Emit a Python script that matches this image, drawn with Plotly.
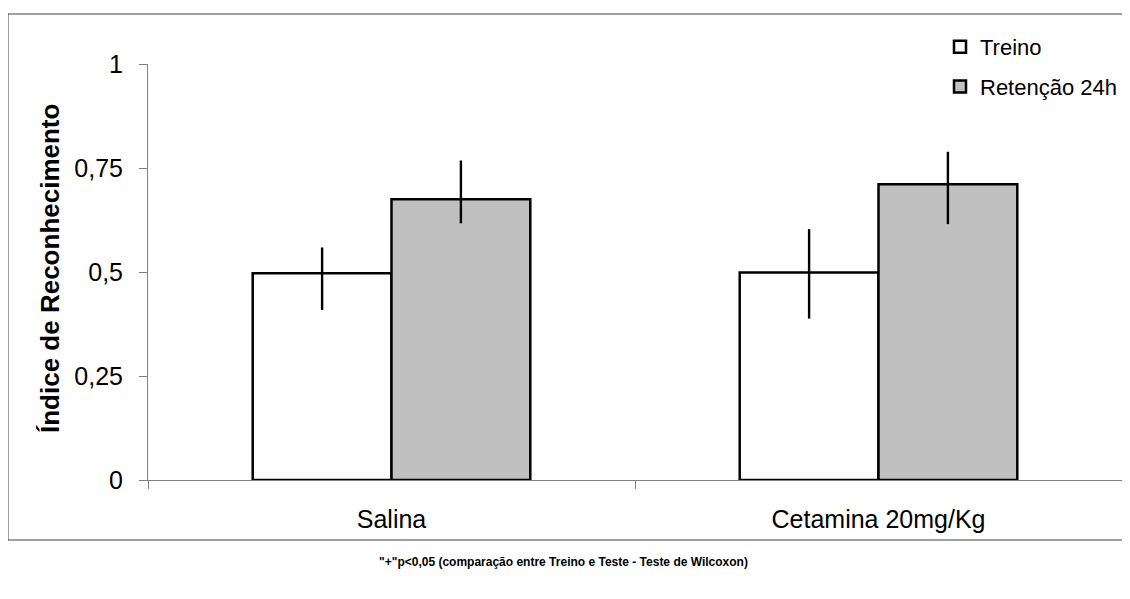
import plotly.graph_objects as go

categories = ["Salina", "Cetamina 20mg/Kg"]
treino = [0.497, 0.499]
treino_err_plus = [0.062, 0.104]
treino_err_minus = [0.088, 0.111]
retencao = [0.675, 0.711]
retencao_err_plus = [0.093, 0.078]
retencao_err_minus = [0.058, 0.096]
y_ticks = [0, 0.25, 0.5, 0.75, 1]
y_tick_labels = ["0", "0,25", "0,5", "0,75", "1"]

FONT = "Liberation Sans, Arial, sans-serif"

fig = go.Figure()
fig.add_trace(go.Bar(
    name="Treino", x=categories, y=treino, legendgroup="a",
    marker=dict(color="white", line=dict(color="black", width=2.5)),
    error_y=dict(type="data", symmetric=False, array=treino_err_plus,
                 arrayminus=treino_err_minus, width=0, thickness=2.4, color="black"),
))
fig.add_trace(go.Bar(
    name="Retenção 24h", x=categories, y=retencao, legendgroup="b",
    marker=dict(color="#c0c0c0", line=dict(color="black", width=2.5)),
    error_y=dict(type="data", symmetric=False, array=retencao_err_plus,
                 arrayminus=retencao_err_minus, width=0, thickness=2.4, color="black"),
))

# page offset (body margin of 8px)
OFF = 8
W, H = 1130 - OFF, 599 - OFF
L = 148 - OFF
T = 64 - OFF
R = 1130 - 1122
B = H - (480 - OFF)
pw = W - L - R
ph = H - T - B

def px(x):
    # page x -> paper
    return (x - OFF - L) / pw

def py(y):
    # page y -> paper
    return (H - B - (y - OFF)) / ph

fig.update_layout(
    width=W, height=H,
    margin=dict(l=L, r=R, t=T, b=B, pad=0, autoexpand=False),
    paper_bgcolor="white", plot_bgcolor="white",
    barmode="group", bargap=0.43, bargroupgap=0,
    font=dict(family=FONT, color="black"),
    showlegend=True,
    legend=dict(x=px(940), y=py(26), xanchor="left", yanchor="top",
                font=dict(size=22, family=FONT), bgcolor="rgba(0,0,0,0)",
                traceorder="grouped", tracegroupgap=8, itemwidth=30),
    xaxis=dict(
        showline=True, linecolor="#808080", linewidth=1,
        ticks="outside", tickson="boundaries", ticklen=8, tickcolor="#808080",
        tickfont=dict(size=25, family=FONT), showgrid=False, zeroline=False,
        ticklabelstandoff=17, automargin=False,
    ),
    yaxis=dict(
        range=[0, 1], tickvals=y_ticks, ticktext=y_tick_labels,
        showline=True, linecolor="#808080", linewidth=1,
        ticks="outside", ticklen=8, tickcolor="#808080",
        tickfont=dict(size=25, family=FONT), showgrid=False, zeroline=False,
        ticklabelstandoff=11, automargin=False,
    ),
    shapes=[dict(type="rect", xref="paper", yref="paper",
                 x0=px(8), x1=px(1145), y0=py(540), y1=py(14),
                 line=dict(color="#404040", width=1), fillcolor="rgba(0,0,0,0)",
                 layer="below")],
    annotations=[
        dict(text="<b>Índice de Reconhecimento</b>", xref="paper", yref="paper",
             x=px(50), y=py(269), xanchor="center", yanchor="middle",
             textangle=-90, showarrow=False,
             font=dict(size=26, family=FONT)),
        dict(text="<b>\"+\"p<0,05 (comparação entre Treino e Teste - Teste de Wilcoxon)</b>",
             xref="paper", yref="paper", x=px(563), y=py(562),
             xanchor="center", yanchor="middle",
             showarrow=False, font=dict(size=12, family=FONT)),
    ],
)

fig.write_html("out.html")
